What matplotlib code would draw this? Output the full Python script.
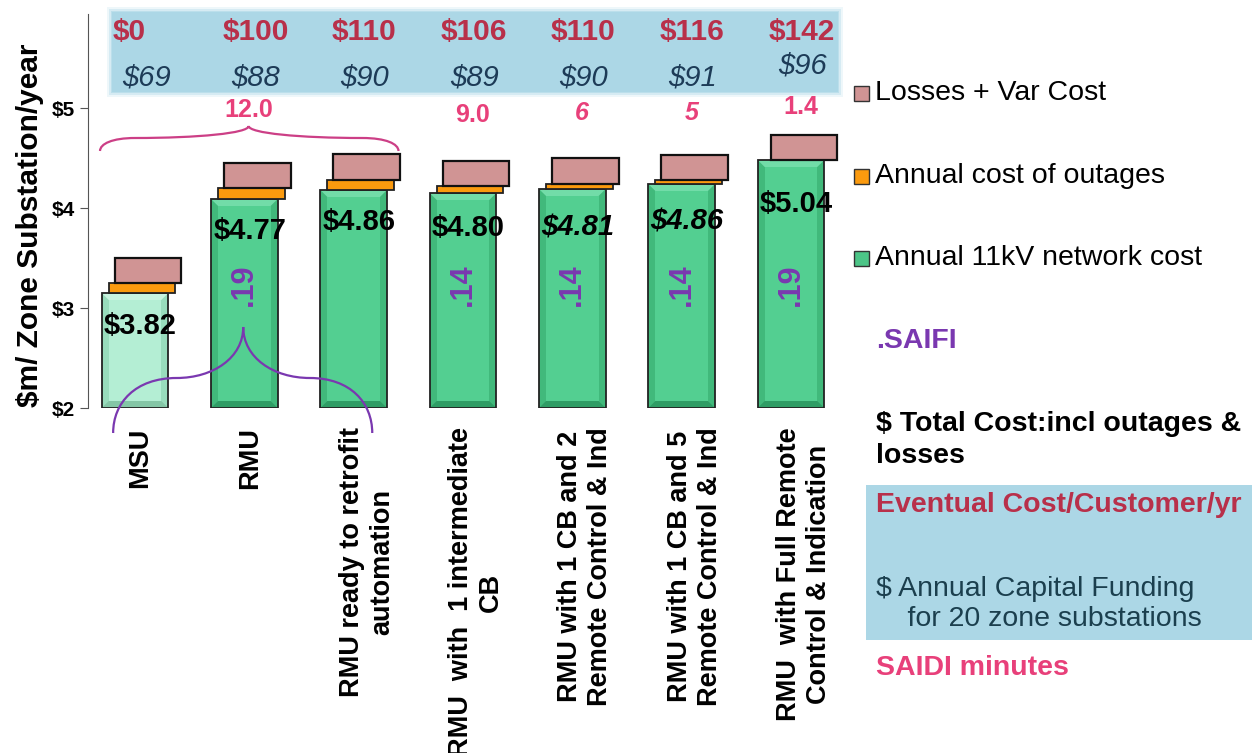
import numpy as np
import matplotlib.pyplot as plt
from matplotlib.patches import Rectangle, Polygon, PathPatch
from matplotlib.path import Path

plt.rcParams['font.family'] = ['Liberation Sans', 'DejaVu Sans']

categories = ["MSU", "RMU", "RMU ready to retrofit\nautomation",
              "RMU  with  1 intermediate\nCB",
              "RMU with 1 CB and 2\nRemote Control & Ind",
              "RMU with 1 CB and 5\nRemote Control & Ind",
              "RMU  with Full Remote\nControl & Indication"]
network = [3.15, 4.09, 4.18, 4.15, 4.19, 4.24, 4.48]
outages = [0.10, 0.11, 0.10, 0.07, 0.05, 0.04, 0.0]
losses = [0.25, 0.25, 0.26, 0.25, 0.26, 0.25, 0.25]
totals = [3.82, 4.77, 4.86, 4.80, 4.81, 4.86, 5.04]
eventual = [0, 100, 110, 106, 110, 116, 142]
capital = [69, 88, 90, 89, 90, 91, 96]
saifi = [None, .19, None, .14, .14, .14, .19]
saidi = ["", "12.0", "", "9.0", "6", "5", "1.4"]

W, H = 1255, 753
fig = plt.figure(figsize=(W / 100, H / 100), dpi=100)
ax = fig.add_axes([88 / W, 1 - 408 / H, (850 - 88) / W, (408 - 14) / H])
ax.set_xlim(-0.43, 6.54)
ax.set_ylim(2, 5.94)
ax.patch.set_alpha(0)

RED = "#b8304a"
BLUE_TXT = "#1d3b57"
PINK = "#e8407a"
PURPLE = "#7a38b0"
BAND = "#acd7e6"

bw = 0.61
dx, dy = 0.065, 0.07


def bevel_bar(x, top, light):
    l, r, b = x - bw / 2, x + bw / 2, 2.0
    if light:
        face, side, hi, lo = "#b4eed4", "#98dcbc", "#c9f4e0", "#84c6a6"
    else:
        face, side, hi, lo = "#53cf91", "#41b97b", "#72dca8", "#2f9d65"
    ax.add_patch(Rectangle((l, b), bw, top - b, facecolor=side, edgecolor="none"))
    ax.add_patch(Polygon([(l, top), (r, top), (r - dx, top - dy), (l + dx, top - dy)],
                         facecolor=hi, edgecolor="none"))
    ax.add_patch(Polygon([(l, b), (r, b), (r - dx, b + dy), (l + dx, b + dy)],
                         facecolor=lo, edgecolor="none"))
    ax.add_patch(Rectangle((l + dx, b + dy), bw - 2 * dx, top - b - 2 * dy,
                           facecolor=face, edgecolor="none"))
    ax.add_patch(Rectangle((l, b), bw, top - b, facecolor="none",
                           edgecolor="#222222", lw=1.3))


# blue band behind per-customer cost and capital funding, soft edged
for pad, a in [(5, 0.2), (3, 0.35), (1, 0.6), (0, 1.0)]:
    ax.add_patch(Rectangle(((112 - pad) / W, 1 - (92 + pad) / H),
                           (726 + 2 * pad) / W, (80 + 2 * pad) / H,
                           transform=fig.transFigure, facecolor=BAND,
                           edgecolor="none", alpha=a, zorder=0.2, clip_on=False))

xs = np.arange(len(categories))
for i, x in enumerate(xs):
    bevel_bar(x, network[i], i == 0)
    if outages[i] > 0:
        ax.add_patch(Rectangle((x - bw / 2 + 0.065, network[i]), bw, outages[i],
                               facecolor="#fb9a0e", edgecolor="#222222", lw=1.3))
    ax.add_patch(Rectangle((x - bw / 2 + 0.12, network[i] + outages[i]), bw, losses[i],
                           facecolor="#d09494", edgecolor="#111111", lw=1.6))

# total cost labels sit one dollar below their value
for i, x in enumerate(xs):
    style = "italic" if i in (4, 5) else "normal"
    ax.text(x + 0.05, totals[i] - 1.0, f"${totals[i]:.2f}", ha="center", va="center",
            fontsize=21, fontweight="bold", style=style, color="black", zorder=4)
    if saifi[i] is not None:
        ax.text(x, 3.23, f"{saifi[i]:.2f}".lstrip("0"), rotation=90, ha="center",
                va="center", fontsize=22, fontweight="bold", color=PURPLE, zorder=4)
    if saidi[i]:
        st = "italic" if saidi[i] in ("6", "5") else "normal"
        sy = {1: 4.98, 3: 4.93, 4: 4.95, 5: 4.95, 6: 5.01}[i]
        sx = x + (0.04 if i == 1 else 0.09)
        ax.text(sx, sy, saidi[i], ha="center", va="center", fontsize=18,
                fontweight="bold", style=st, color=PINK)

for i, x in enumerate(xs):
    ax.text(x - 0.2, 5.76, f"${eventual[i]}", ha="left", va="center", fontsize=21.5,
            fontweight="bold", color=RED, clip_on=False, zorder=4)
    cy = 5.43 if i == 6 else 5.31
    ax.text(x - 0.12, cy, f"${capital[i]}", ha="left", va="center", fontsize=21,
            style="italic", color=BLUE_TXT, clip_on=False, zorder=4)


def brace(x0, x1, xt, ye, ym, yt, xa, xb, color):
    verts = [(x0, ye),
             (x0, ye + (ym - ye) * 0.55), (x0 + (xa - x0) * 0.35, ym), (xa, ym),
             (xa + (xt - xa) * 0.55, ym), (xt, ym + (yt - ym) * 0.4), (xt, yt),
             (xt, ym + (yt - ym) * 0.4), (xb - (xb - xt) * 0.55, ym), (xb, ym),
             (x1 - (x1 - xb) * 0.35, ym), (x1, ye + (ym - ye) * 0.55), (x1, ye)]
    codes = [Path.MOVETO] + [Path.CURVE4] * 12
    ax.add_patch(PathPatch(Path(verts, codes), facecolor="none", edgecolor=color,
                           lw=1.6, clip_on=False, zorder=3))


brace(-0.32, 2.41, 1.04, 4.57, 4.70, 4.82, 0.0, 2.08, "#cc3f86")
brace(-0.20, 2.17, 0.99, 1.75, 2.30, 2.81, 0.38, 1.60, PURPLE)

# two-line labels sit a little further right of their bar
shift = np.array([0.12 if "\n" in c else 0.05 for c in categories])
ax.set_xticks(xs + shift)
ax.set_xticklabels(categories, rotation=90, fontsize=19.5, fontweight="bold",
                   ha="center", va="top", multialignment="center")
ax.tick_params(axis="x", length=0, pad=14)
ax.set_yticks([2, 3, 4, 5])
ax.set_yticklabels(["$2", "$3", "$4", "$5"], fontsize=15, fontweight="bold")
ax.tick_params(axis="y", direction="out", length=6, color="#555555")
for s in ["top", "right", "bottom"]:
    ax.spines[s].set_visible(False)
ax.spines["left"].set_color("#555555")
ax.set_ylabel("$m/ Zone Substation/year", fontsize=21.5, fontweight="bold")
ax.yaxis.set_label_coords(-0.058, 0.465)


def ftext(x, y, s, **kw):
    fig.text(x / W, 1 - y / H, s, va="center", **kw)


# legend for the three cost layers
for y, fc, label in [(93, "#d09494", "Losses + Var Cost"),
                     (176, "#fb9a0e", "Annual cost of outages"),
                     (258, "#4cc587", "Annual 11kV network cost")]:
    fig.patches.append(Rectangle((854 / W, 1 - (y + 8) / H), 15 / W, 15 / H,
                                 transform=fig.transFigure, facecolor=fc,
                                 edgecolor="#333333", lw=1))
    ftext(875, y, label, fontsize=20.5, color="black")

ftext(876, 341, ".SAIFI", fontsize=20.5, fontweight="bold", color=PURPLE)
ftext(876, 440, "$ Total Cost:incl outages &\nlosses", fontsize=20.5, fontweight="bold",
      color="black", linespacing=1.3)
fig.patches.append(Rectangle((866 / W, 1 - 640 / H), 386 / W, 155 / H,
                             transform=fig.transFigure, facecolor=BAND,
                             edgecolor="none", zorder=0))
ftext(876, 505, "Eventual Cost/Customer/yr", fontsize=20.5, fontweight="bold", color=RED)
ftext(876, 604, "$ Annual Capital Funding\n    for 20 zone substations", fontsize=20.5,
      color="#1b3f4e", linespacing=1.15)
ftext(876, 668, "SAIDI minutes", fontsize=20.5, fontweight="bold", color=PINK)

fig.savefig("out.png", dpi=100)
